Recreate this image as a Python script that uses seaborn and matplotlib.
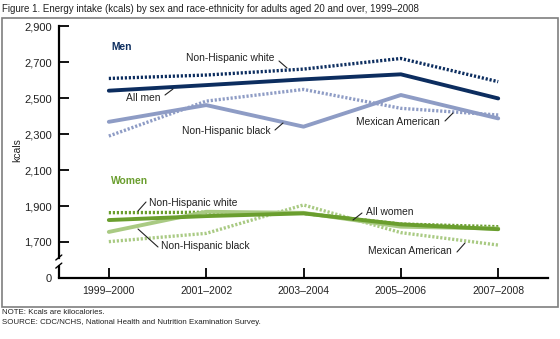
import matplotlib
matplotlib.use("Agg")
import matplotlib.pyplot as plt
import seaborn as sns
import pandas as pd
from matplotlib.patches import Rectangle
from matplotlib.lines import Line2D

sns.set_theme(style="white")
plt.rcParams['font.family'] = ['Liberation Sans', 'DejaVu Sans']

periods = ["1999\u20132000", "2001\u20132002", "2003\u20132004", "2005\u20132006", "2007\u20132008"]
men_nh_white = [2609, 2628, 2661, 2720, 2591]
all_men = [2541, 2572, 2604, 2632, 2498]
men_nh_black = [2368, 2461, 2341, 2517, 2387]
men_mexican = [2289, 2483, 2548, 2443, 2406]
women_nh_white = [1863, 1865, 1859, 1800, 1785]
all_women = [1822, 1844, 1859, 1798, 1771]
women_nh_black = [1756, 1868, 1862, 1785, 1775]
women_mexican = [1702, 1748, 1906, 1752, 1683]

ytick_vals = [1500, 1700, 1900, 2100, 2300, 2500, 2700, 2900]
ytick_labels = ["0", "1,700", "1,900", "2,100", "2,300", "2,500", "2,700", "2,900"]

NAVY = "#0c2d5f"
LBLUE = "#8e9cc5"
GREEN = "#6a9e2e"
LGREEN = "#a9ca83"

fig = plt.figure(figsize=(5.6, 3.39), dpi=100)
ax = fig.add_axes([0.105, 0.180, 0.874, 0.743])

x = list(range(len(periods)))
series = [
    (men_mexican, LBLUE, "dot"),
    (men_nh_black, LBLUE, "solid"),
    (men_nh_white, NAVY, "dot"),
    (all_men, NAVY, "solid"),
    (women_mexican, LGREEN, "dot"),
    (women_nh_white, GREEN, "dot"),
    (women_nh_black, LGREEN, "solid"),
    (all_women, GREEN, "solid"),
]
for vals, col, sty in series:
    df = pd.DataFrame({"x": x, "y": vals})
    if sty == "dot":
        l = sns.lineplot(data=df, x="x", y="y", ax=ax, color=col, linewidth=2.4)
        l.lines[-1].set_dashes((0.65, 0.55))
        l.lines[-1].set_dash_capstyle("butt")
    else:
        sns.lineplot(data=df, x="x", y="y", ax=ax, color=col, linewidth=2.8)

ax.set_xlim(-0.514, 4.514)
ax.set_ylim(1500, 2900)
ax.set_xticks(x)
ax.set_xticklabels(periods)
ax.set_yticks(ytick_vals)
ax.set_yticklabels(ytick_labels)
ax.set_xlabel("")
ax.set_ylabel("")
ax.tick_params(axis="both", direction="in", length=7, width=1.3, color="black",
               labelsize=8, labelcolor="#222222", left=True, bottom=True)
ax.tick_params(axis="x", pad=6, labelsize=7.5)
ax.tick_params(axis="y", pad=5)
ax.yaxis.get_major_ticks()[0].tick1line.set_visible(False)

for s in ["top", "right"]:
    ax.spines[s].set_visible(False)
for s in ["left", "bottom"]:
    ax.spines[s].set_color("black")
    ax.spines[s].set_linewidth(1.6)
ax.spines["left"].set_bounds(1611, 2900)
ytr = ax.get_yaxis_transform()
ax.add_line(Line2D([0, 0], [1500, 1566], transform=ytr, color="black", lw=1.6, clip_on=False))
# break marks
for yv in (1566, 1611):
    p = ax.transData.transform((-0.514, yv))
    p1 = fig.transFigure.inverted().transform((p[0] - 3, p[1] - 2))
    p2 = fig.transFigure.inverted().transform((p[0] + 3, p[1] + 3))
    fig.add_artist(Line2D([p1[0], p2[0]], [p1[1], p2[1]], transform=fig.transFigure,
                          color="black", lw=1.0))

# labels
txt = dict(fontsize=7.4, color="#222222", va="center", ha="left")
def lab(px, py, s, **kw):
    d = dict(txt); d.update(kw)
    fig.text(px / 560, 1 - py / 339, s, **d)
def lead(x1, y1, x2, y2):
    fig.add_artist(Line2D([x1 / 560, x2 / 560], [1 - y1 / 339, 1 - y2 / 339],
                          transform=fig.transFigure, color="#222222", lw=0.8))

fig.text(17 / 560, 1 - 150 / 339, "kcals", fontsize=7.5, color="#222222",
         rotation=90, va="center", ha="center")

lab(111, 47, "Men", fontweight="bold", color=NAVY)
lab(111, 181, "Women", fontweight="bold", color=GREEN)

lab(186, 58, "Non-Hispanic white")
lead(279, 61, 287, 68)
lab(126, 98, "All men")
lead(165, 95, 173, 89)
lab(182, 131, "Non-Hispanic black")
lead(275, 130, 283, 123)
lab(356, 122, "Mexican American")
lead(445, 121, 453, 113)

lab(149, 203, "Non-Hispanic white")
lead(138, 211, 146, 202)
lab(161, 246, "Non-Hispanic black")
lead(138, 229, 158, 247)
lab(366, 212, "All women")
lead(353, 220, 362, 213)
lab(368, 251, "Mexican American")
lead(457, 252, 465, 243)

# title & notes
fig.text(2 / 560, 1 - 9 / 339, "Figure 1. Energy intake (kcals) by sex and race-ethnicity for adults aged 20 and over, 1999\u20132008",
         fontsize=7.0, color="#222222", va="center", ha="left")
fig.text(2 / 560, 1 - 313 / 339, "NOTE: Kcals are kilocalories.", fontsize=5.7, color="#222222", va="center", ha="left")
fig.text(2 / 560, 1 - 323 / 339, "SOURCE: CDC/NCHS, National Health and Nutrition Examination Survey.",
         fontsize=5.7, color="#222222", va="center", ha="left")

# frame
fig.add_artist(Rectangle((1.5 / 560, 1 - 307 / 339), 556 / 560, 289 / 339, transform=fig.transFigure,
                         fill=False, edgecolor="#7f7f7f", lw=1.2))

fig.savefig("out.png", dpi=100)
